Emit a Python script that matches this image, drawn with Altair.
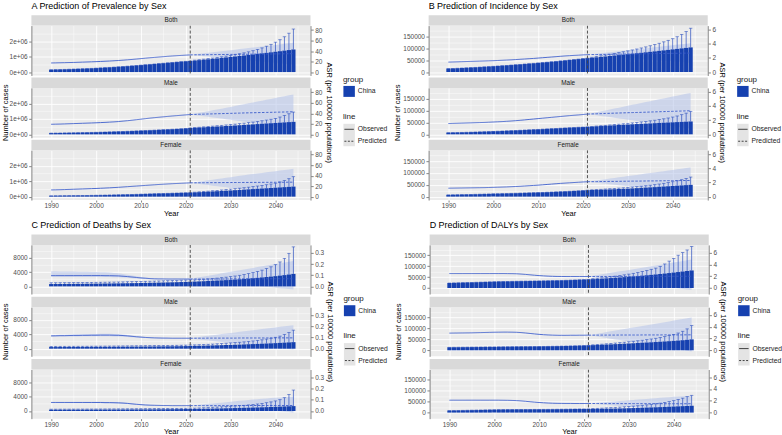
import altair as alt
import pandas as pd

FONT = "Liberation Sans"
YEARS = list(range(1990, 2045))
N_OBS = 32  # 1990-2021 observed, 2022-2044 projected
SPLIT_YEAR = [2021]
SEXES = ["Both", "Male", "Female"]
LEFT_TITLE = "Number of cases"
RIGHT_TITLE = "ASR (per 100000 populations)"

# ---------------- A: prevalence ----------------
prev_both_cases = [150000, 158000, 166000, 175000, 184000, 194000, 205000, 216000, 228000, 240000,
                   255000, 270000, 286000, 303000, 321000, 340000, 360000, 381000, 403000, 426000,
                   450000, 474000, 498000, 522000, 547000, 572000, 597000, 622000, 647000, 672000,
                   695000, 715000,
                   742000, 770000, 798000, 826000, 855000, 884000, 914000, 944000, 975000, 1006000,
                   1038000, 1070000, 1103000, 1136000, 1170000, 1204000, 1239000, 1274000, 1310000,
                   1346000, 1383000, 1420000, 1458000]
prev_both_upper = [770000, 800000, 835000, 870000, 905000, 945000, 985000, 1030000, 1075000, 1125000,
                   1180000, 1240000, 1305000, 1380000, 1460000, 1560000, 1670000, 1790000, 1930000,
                   2090000, 2280000, 2510000, 2780000]
prev_both_asr = [17.3, 17.5, 17.7, 17.9, 18.1, 18.3, 18.6, 18.9, 19.2, 19.5, 19.8, 20.2, 20.6, 21.0,
                 21.5, 22.0, 22.6, 23.3, 24.0, 24.8, 25.6, 26.4, 27.2, 27.9, 28.6, 29.3, 30.0, 30.6,
                 31.2, 31.7, 32.2, 32.7,
                 32.8, 32.9, 33.0, 33.1, 33.2, 33.3, 33.4, 33.5, 33.6, 33.7, 33.8, 33.9, 34.0, 34.1,
                 34.2, 34.3, 34.4, 34.5, 34.6, 34.7, 34.8, 34.9, 35.0]
prev_both_lo = [32.7, 31.9, 31.1, 30.3, 29.5, 28.7, 27.9, 27.1, 26.3, 25.5, 24.7, 23.9, 23.1, 22.3,
                21.5, 20.7, 19.9, 19.1, 18.3, 17.5, 16.7, 15.9, 15.1, 14.3]
prev_both_hi = [32.7, 33.7, 34.7, 35.7, 36.7, 37.7, 38.7, 39.7, 40.7, 41.7, 42.7, 43.7, 44.7, 45.7,
                46.7, 47.7, 48.7, 49.7, 50.7, 51.7, 52.7, 53.7, 54.7, 55.7]

prev_male_cases = [80000, 84000, 88000, 93000, 98000, 103000, 109000, 115000, 122000, 129000,
                   136000, 144000, 152000, 161000, 170000, 180000, 190000, 201000, 212000, 224000,
                   236000, 248000, 261000, 274000, 288000, 302000, 317000, 332000, 347000, 363000,
                   386000, 410000,
                   425000, 441000, 457000, 473000, 489000, 506000, 523000, 540000, 557000, 574000,
                   592000, 610000, 628000, 646000, 664000, 682000, 700000, 718000, 736000, 754000,
                   772000, 790000, 808000]
prev_male_upper = [440000, 462000, 485000, 508000, 532000, 556000, 581000, 607000, 634000, 662000,
                   692000, 724000, 758000, 795000, 835000, 878000, 925000, 975000, 1030000, 1120000,
                   1220000, 1330000, 1440000]
prev_male_asr = [19.2, 19.4, 19.6, 19.9, 20.2, 20.5, 20.8, 21.1, 21.4, 21.7, 22.0, 22.4, 22.8, 23.3,
                 23.8, 24.4, 25.2, 26.0, 26.9, 27.9, 28.9, 29.9, 30.9, 31.8, 32.6, 33.4, 34.2, 35.0,
                 35.7, 36.4, 37.1, 37.8,
                 38.0, 38.3, 38.5, 38.8, 39.0, 39.3, 39.5, 39.8, 40.0, 40.3, 40.5, 40.8, 41.0, 41.2,
                 41.4, 41.6, 41.8, 42.0, 42.2, 42.4, 42.6, 42.8, 43.0]
prev_male_lo = [37.8, 36.5, 35.6, 34.5, 33.5, 32.3, 31.3, 30.0, 29.0, 27.7, 26.6, 25.3, 24.2, 22.9,
                21.6, 20.3, 19.0, 17.7, 16.4, 15.1, 13.8, 12.5, 11.2, 10.0]
prev_male_hi = [37.8, 39.5, 41.0, 42.5, 44.1, 45.7, 47.3, 49.0, 50.6, 52.3, 54.0, 55.7, 57.4, 59.1,
                60.8, 62.5, 64.2, 65.9, 67.6, 69.3, 71.0, 72.7, 74.4, 76.0]

prev_female_cases = [55000, 58000, 61000, 64000, 67000, 71000, 75000, 79000, 83000, 88000,
                     93000, 98000, 104000, 110000, 116000, 123000, 130000, 138000, 146000, 154000,
                     163000, 172000, 181000, 190000, 199000, 208000, 217000, 226000, 235000, 243000,
                     252000, 260000,
                     275000, 290000, 305000, 321000, 337000, 353000, 369000, 385000, 402000, 419000,
                     436000, 453000, 470000, 488000, 506000, 524000, 542000, 560000, 578000, 596000,
                     614000, 632000, 650000]
prev_female_upper = [290000, 312000, 334000, 357000, 381000, 406000, 432000, 459000, 487000, 516000,
                     546000, 578000, 612000, 648000, 686000, 726000, 770000, 817000, 868000, 950000,
                     1040000, 1160000, 1290000]
prev_female_asr = [12.8, 13.0, 13.2, 13.5, 13.8, 14.1, 14.4, 14.7, 15.0, 15.3, 15.6, 16.0, 16.4, 16.8,
                   17.3, 17.8, 18.4, 19.0, 19.6, 20.2, 20.8, 21.4, 22.0, 22.6, 23.2, 23.7, 24.2, 24.7,
                   25.1, 25.5, 25.9, 26.3,
                   26.4, 26.5, 26.5, 26.6, 26.7, 26.7, 26.8, 26.9, 26.9, 27.0, 27.0, 27.1, 27.1, 27.2,
                   27.2, 27.3, 27.3, 27.4, 27.4, 27.5, 27.5, 27.6, 27.6]
prev_female_lo = [26.3, 25.2, 24.2, 23.0, 22.0, 21.0, 19.8, 18.8, 17.8, 16.6, 15.6, 14.4, 13.4, 12.2,
                  11.3, 10.2, 9.3, 8.2, 7.3, 6.2, 5.3, 4.2, 3.3, 2.2]
prev_female_hi = [26.3, 27.6, 28.8, 30.0, 31.2, 32.4, 33.6, 34.8, 36.0, 37.2, 38.4, 39.6, 40.8, 42.0,
                  43.1, 44.2, 45.3, 46.4, 47.5, 48.6, 49.7, 50.8, 51.9, 53.0]

# ---------------- B: incidence ----------------
inc_both_cases = [14400, 15200, 16000, 16900, 17800, 18800, 19800, 20900, 22000, 23100, 24300, 25500,
                  26800, 28100, 29500, 30900, 32300, 33800, 35300, 36800, 38400, 40000, 41700, 43400,
                  45200, 47000, 48900, 50800, 52700, 54700, 56700, 58700,
                  60500, 62300, 64100, 65900, 67700, 69600, 71500, 73400, 75300, 77200, 79200, 81200,
                  83200, 85200, 87200, 89300, 91400, 93500, 95600, 97700, 99800, 101900, 104000]
inc_both_upper = [62500, 65500, 68600, 71800, 75100, 78500, 82000, 85600, 89300, 93200, 97300, 101600,
                  106100, 110900, 116000, 121500, 127400, 133800, 140700, 149000, 159000, 171000, 185000]
inc_both_asr = [1.40, 1.42, 1.44, 1.46, 1.48, 1.50, 1.52, 1.54, 1.56, 1.58, 1.60, 1.63, 1.66, 1.69,
                1.72, 1.76, 1.80, 1.84, 1.88, 1.92, 1.97, 2.02, 2.07, 2.12, 2.17, 2.22, 2.27, 2.31,
                2.35, 2.38, 2.42, 2.45,
                2.46, 2.47, 2.48, 2.49, 2.50, 2.51, 2.52, 2.53, 2.54, 2.55, 2.56, 2.57, 2.58, 2.59,
                2.60, 2.61, 2.62, 2.63, 2.64, 2.65, 2.66, 2.67, 2.68]
inc_both_lo = [2.45, 2.40, 2.35, 2.30, 2.25, 2.20, 2.15, 2.10, 2.05, 2.00, 1.95, 1.90, 1.85, 1.80,
               1.75, 1.70, 1.65, 1.60, 1.55, 1.50, 1.45, 1.40, 1.35, 1.30]
inc_both_hi = [2.45, 2.52, 2.59, 2.66, 2.73, 2.80, 2.87, 2.94, 3.01, 3.08, 3.15, 3.22, 3.29, 3.36,
               3.43, 3.50, 3.57, 3.64, 3.71, 3.78, 3.85, 3.92, 3.99, 4.06]

inc_male_cases = [7000, 7400, 7800, 8300, 8800, 9300, 9900, 10500, 11100, 11800, 12500, 13200, 14000,
                  14800, 15600, 16500, 17400, 18300, 19200, 20100, 21000, 22000, 23000, 24000, 25000,
                  26000, 27000, 28000, 29000, 30000, 30700, 31400,
                  32600, 33800, 35000, 36100, 37200, 38300, 39400, 40400, 41400, 42400, 43400, 44400,
                  45300, 46200, 47100, 48000, 48900, 49800, 50700, 51600, 52500, 53400, 54300]
inc_male_upper = [33500, 35000, 36500, 38000, 39600, 41200, 42900, 44600, 46400, 48300, 50300, 52400,
                  54600, 57000, 59600, 62400, 65500, 69000, 73000, 77500, 83000, 89500, 97000]
inc_male_asr = [1.52, 1.54, 1.56, 1.58, 1.60, 1.62, 1.64, 1.66, 1.68, 1.71, 1.74, 1.77, 1.80, 1.84,
                1.88, 1.93, 1.98, 2.04, 2.10, 2.16, 2.22, 2.28, 2.34, 2.40, 2.46, 2.52, 2.58, 2.64,
                2.69, 2.74, 2.80, 2.86,
                2.88, 2.90, 2.92, 2.95, 2.97, 2.99, 3.01, 3.03, 3.05, 3.07, 3.09, 3.11, 3.13, 3.15,
                3.17, 3.19, 3.21, 3.23, 3.25, 3.27, 3.29, 3.31, 3.33]
inc_male_lo = [2.86, 2.77, 2.68, 2.59, 2.52, 2.43, 2.34, 2.25, 2.16, 2.07, 1.98, 1.89, 1.80, 1.71,
               1.62, 1.53, 1.44, 1.35, 1.26, 1.17, 1.08, 0.99, 0.90, 0.81]
inc_male_hi = [2.86, 2.99, 3.12, 3.25, 3.38, 3.51, 3.64, 3.77, 3.90, 4.03, 4.16, 4.29, 4.42, 4.55,
               4.68, 4.81, 4.94, 5.07, 5.20, 5.33, 5.46, 5.59, 5.72, 5.85]

inc_female_cases = [7400, 7800, 8200, 8600, 9000, 9500, 9900, 10400, 10900, 11300, 11800, 12300, 12800,
                    13300, 13900, 14400, 14900, 15500, 16100, 16700, 17400, 18000, 18700, 19400, 20200,
                    21000, 21900, 22800, 23700, 24700, 26000, 27300,
                    27900, 28500, 29100, 29800, 30500, 31300, 32100, 33000, 33900, 34800, 35800, 36800,
                    37900, 39000, 40100, 41300, 42500, 43700, 44900, 46100, 47300, 48500, 49700]
inc_female_upper = [28800, 29900, 31000, 32200, 33400, 34700, 36000, 37400, 38900, 40500, 42200, 44000,
                    46000, 48200, 50600, 53200, 56100, 59300, 62900, 67000, 71500, 76700, 82600]
inc_female_asr = [1.19, 1.20, 1.21, 1.22, 1.23, 1.24, 1.25, 1.26, 1.27, 1.29, 1.31, 1.33, 1.35, 1.37,
                  1.40, 1.43, 1.46, 1.50, 1.54, 1.58, 1.62, 1.67, 1.72, 1.77, 1.82, 1.87, 1.91, 1.95,
                  1.99, 2.03, 2.07, 2.10,
                  2.11, 2.12, 2.13, 2.14, 2.15, 2.15, 2.16, 2.17, 2.18, 2.19, 2.19, 2.20, 2.21, 2.22,
                  2.22, 2.23, 2.24, 2.25, 2.25, 2.26, 2.27, 2.28, 2.28]
inc_female_lo = [2.10, 2.03, 1.96, 1.89, 1.82, 1.75, 1.67, 1.60, 1.53, 1.46, 1.39, 1.31, 1.24, 1.17,
                 1.10, 1.02, 0.95, 0.88, 0.81, 0.73, 0.66, 0.59, 0.52, 0.44]
inc_female_hi = [2.10, 2.19, 2.28, 2.37, 2.46, 2.55, 2.63, 2.72, 2.81, 2.90, 2.99, 3.07, 3.16, 3.25,
                 3.34, 3.42, 3.51, 3.60, 3.69, 3.77, 3.86, 3.95, 4.04, 4.12]

# ---------------- C: deaths ----------------
death_both_cases = [650, 660, 670, 680, 690, 700, 710, 720, 735, 750, 765, 780, 795, 810, 825, 840,
                    860, 880, 900, 920, 945, 970, 995, 1020, 1050, 1080, 1110, 1140, 1170, 1210, 1250,
                    1300,
                    1340, 1390, 1440, 1495, 1550, 1610, 1675, 1745, 1820, 1900, 1985, 2075, 2170, 2270,
                    2375, 2485, 2600, 2720, 2850, 2990, 3140, 3300, 3470]
death_both_upper = [1000, 1010, 1020, 1030, 1040, 1050, 1060, 1070, 1090, 1110, 1130, 1150, 1170, 1190,
                    1210, 1230, 1260, 1290, 1320, 1350, 1380, 1410, 1440, 1470, 1510, 1550, 1590, 1630,
                    1670, 1720, 1770, 1830,
                    1800, 1880, 1970, 2070, 2180, 2300, 2430, 2570, 2720, 2890, 3080, 3300, 3550, 3830,
                    4150, 4520, 4950, 5450, 6050, 6800, 7800, 9200, 11000]
death_both_asr = [0.097, 0.097, 0.097, 0.097, 0.097, 0.097, 0.097, 0.097, 0.097, 0.097, 0.097, 0.097,
                  0.096, 0.096, 0.095, 0.094, 0.091, 0.088, 0.084, 0.080, 0.076, 0.073, 0.070, 0.068,
                  0.067, 0.067, 0.066, 0.066, 0.066, 0.066, 0.066, 0.066,
                  0.066, 0.066, 0.066, 0.066, 0.066, 0.066, 0.066, 0.066, 0.067, 0.067, 0.067, 0.067,
                  0.067, 0.067, 0.067, 0.067, 0.068, 0.068, 0.068, 0.068, 0.068, 0.068, 0.068]
death_both_lo = [0.085, 0.085, 0.085, 0.085, 0.085, 0.085, 0.085, 0.085, 0.085, 0.085, 0.085, 0.085,
                 0.084, 0.084, 0.083, 0.082, 0.080, 0.077, 0.074, 0.071, 0.068, 0.066, 0.064, 0.063,
                 0.063, 0.063, 0.063, 0.063, 0.063, 0.063, 0.063, 0.064,
                 0.060, 0.056, 0.052, 0.048, 0.044, 0.040, 0.036, 0.032, 0.028, 0.024, 0.020, 0.016,
                 0.012, 0.008, 0.004, 0.000, -0.004, -0.008, -0.012, -0.016, -0.020, -0.024, -0.028]
death_both_hi = [0.135, 0.135, 0.134, 0.134, 0.133, 0.133, 0.132, 0.132, 0.131, 0.130, 0.129, 0.128,
                 0.126, 0.124, 0.121, 0.117, 0.111, 0.104, 0.097, 0.090, 0.084, 0.079, 0.075, 0.072,
                 0.070, 0.069, 0.068, 0.068, 0.068, 0.068, 0.068, 0.068,
                 0.075, 0.082, 0.089, 0.096, 0.103, 0.110, 0.117, 0.124, 0.131, 0.138, 0.145, 0.152,
                 0.159, 0.166, 0.173, 0.180, 0.187, 0.194, 0.201, 0.208, 0.215, 0.222, 0.229]

death_male_cases = [450, 455, 460, 465, 470, 475, 480, 485, 492, 499, 506, 513, 520, 527, 534, 541,
                    550, 559, 568, 577, 587, 597, 608, 619, 631, 643, 656, 669, 683, 703, 725, 750,
                    780, 810, 842, 875, 909, 944, 980, 1017, 1055, 1095, 1137, 1181, 1227, 1275, 1325,
                    1377, 1431, 1487, 1546, 1608, 1674, 1744, 1818]
death_male_upper = [640, 645, 650, 655, 660, 665, 670, 675, 685, 695, 705, 715, 725, 735, 745, 755,
                    768, 781, 794, 807, 820, 834, 848, 862, 878, 894, 911, 928, 946, 970, 1000, 1030,
                    1060, 1110, 1165, 1225, 1290, 1360, 1435, 1515, 1600, 1690, 1790, 1900, 2020, 2150,
                    2300, 2470, 2670, 2900, 3170, 3500, 3950, 4500, 5160]
death_male_asr = [0.115, 0.116, 0.117, 0.117, 0.118, 0.119, 0.119, 0.120, 0.120, 0.121, 0.121, 0.122,
                  0.122, 0.122, 0.121, 0.120, 0.118, 0.115, 0.111, 0.107, 0.104, 0.101, 0.099, 0.097,
                  0.096, 0.095, 0.095, 0.094, 0.094, 0.094, 0.094, 0.094,
                  0.094, 0.094, 0.094, 0.095, 0.095, 0.095, 0.095, 0.095, 0.095, 0.095, 0.096, 0.096,
                  0.096, 0.096, 0.096, 0.096, 0.096, 0.097, 0.097, 0.097, 0.097, 0.097, 0.097]
death_male_lo = [0.108, 0.108, 0.109, 0.109, 0.110, 0.110, 0.110, 0.111, 0.111, 0.111, 0.111, 0.111,
                 0.111, 0.111, 0.110, 0.109, 0.108, 0.106, 0.103, 0.100, 0.098, 0.096, 0.094, 0.093,
                 0.092, 0.092, 0.092, 0.092, 0.092, 0.092, 0.092, 0.092,
                 0.088, 0.083, 0.078, 0.073, 0.068, 0.064, 0.059, 0.054, 0.050, 0.045, 0.041, 0.036,
                 0.032, 0.028, 0.024, 0.020, 0.016, 0.012, 0.008, 0.004, 0.000, -0.004, -0.008]
death_male_hi = [0.123, 0.124, 0.125, 0.126, 0.127, 0.128, 0.129, 0.130, 0.131, 0.132, 0.133, 0.134,
                 0.134, 0.134, 0.133, 0.131, 0.128, 0.124, 0.119, 0.114, 0.109, 0.105, 0.102, 0.100,
                 0.099, 0.098, 0.097, 0.096, 0.096, 0.096, 0.096, 0.096,
                 0.101, 0.106, 0.111, 0.116, 0.121, 0.126, 0.131, 0.136, 0.141, 0.146, 0.151, 0.156,
                 0.161, 0.166, 0.171, 0.176, 0.181, 0.186, 0.191, 0.196, 0.201, 0.206, 0.211]

death_female_cases = [350, 353, 356, 359, 362, 365, 369, 373, 377, 381, 385, 390, 395, 400, 405, 410,
                      416, 422, 428, 435, 442, 449, 457, 465, 474, 483, 492, 502, 513, 526, 542, 560,
                      580, 602, 625, 649, 674, 700, 727, 755, 784, 814, 845, 877, 911, 946, 983, 1022,
                      1063, 1106, 1151, 1199, 1250, 1304, 1360]
death_female_upper = [500, 505, 510, 515, 520, 525, 530, 535, 540, 545, 550, 557, 564, 571, 578, 585,
                      593, 601, 609, 618, 627, 636, 646, 656, 667, 678, 690, 702, 716, 732, 752, 775,
                      800, 850, 905, 960, 1020, 1085, 1155, 1230, 1310, 1395, 1485, 1580, 1690, 1810,
                      1950, 2110, 2300, 2530, 2800, 3150, 3700, 4600, 5830]
death_female_asr = [0.076, 0.076, 0.076, 0.076, 0.076, 0.076, 0.076, 0.076, 0.076, 0.076, 0.076, 0.076,
                    0.075, 0.075, 0.074, 0.073, 0.071, 0.068, 0.064, 0.060, 0.057, 0.054, 0.052, 0.051,
                    0.050, 0.049, 0.049, 0.048, 0.048, 0.048, 0.048, 0.048,
                    0.048, 0.048, 0.048, 0.048, 0.048, 0.048, 0.048, 0.048, 0.049, 0.049, 0.049, 0.049,
                    0.049, 0.049, 0.049, 0.049, 0.049, 0.049, 0.049, 0.049, 0.049, 0.049, 0.049]
death_female_lo = [0.071, 0.071, 0.071, 0.071, 0.071, 0.071, 0.071, 0.071, 0.071, 0.071, 0.071, 0.071,
                   0.070, 0.070, 0.069, 0.068, 0.066, 0.063, 0.059, 0.055, 0.052, 0.050, 0.049, 0.048,
                   0.047, 0.047, 0.046, 0.046, 0.046, 0.046, 0.046, 0.046,
                   0.044, 0.042, 0.040, 0.038, 0.036, 0.034, 0.031, 0.029, 0.027, 0.025, 0.022, 0.020,
                   0.018, 0.015, 0.013, 0.010, 0.008, 0.005, 0.002, 0.000, -0.005, -0.010, -0.015]
death_female_hi = [0.082, 0.082, 0.082, 0.082, 0.082, 0.082, 0.082, 0.082, 0.082, 0.082, 0.082, 0.082,
                   0.081, 0.081, 0.080, 0.079, 0.077, 0.074, 0.070, 0.066, 0.062, 0.058, 0.055, 0.053,
                   0.052, 0.051, 0.050, 0.050, 0.050, 0.050, 0.050, 0.050,
                   0.052, 0.056, 0.060, 0.064, 0.068, 0.072, 0.075, 0.079, 0.083, 0.087, 0.091, 0.095,
                   0.099, 0.103, 0.106, 0.110, 0.113, 0.116, 0.119, 0.121, 0.123, 0.125, 0.127]

# ---------------- D: DALYs ----------------
daly_both_cases = [22700, 23300, 23900, 24500, 25100, 25700, 26300, 26900, 27500, 28100, 28800, 29300,
                   29800, 30200, 30600, 31000, 31300, 31600, 31900, 32200, 32500, 32900, 33300, 33800,
                   34300, 34900, 35500, 36200, 36900, 37700, 38500, 39400,
                   40500, 41700, 42900, 44100, 45400, 46800, 48200, 49700, 51300, 52900, 54600, 56400,
                   58200, 60100, 62000, 64000, 66100, 68300, 70600, 72900, 75300, 77800, 80300]
daly_both_upper = [42500, 44500, 46700, 49000, 51500, 54200, 57100, 60200, 63500, 67000, 71000, 75500,
                   80500, 85500, 91000, 99000, 110000, 123000, 135000, 150000, 162000, 174000, 190000]
daly_both_asr = [2.45, 2.45, 2.45, 2.45, 2.45, 2.45, 2.45, 2.45, 2.45, 2.45, 2.45, 2.45, 2.45, 2.44,
                 2.43, 2.41, 2.36, 2.30, 2.23, 2.16, 2.10, 2.05, 2.01, 1.98, 1.96, 1.95, 1.94, 1.94,
                 1.94, 1.94, 1.94, 1.94,
                 1.94, 1.94, 1.95, 1.95, 1.95, 1.95, 1.96, 1.96, 1.96, 1.96, 1.97, 1.97, 1.97, 1.97,
                 1.98, 1.98, 1.98, 1.98, 1.99, 1.99, 1.99, 1.99, 2.00]
daly_both_lo = [1.94, 1.84, 1.74, 1.64, 1.54, 1.44, 1.34, 1.24, 1.14, 1.04, 0.94, 0.84, 0.74, 0.64,
                0.54, 0.44, 0.34, 0.24, 0.14, 0.04, -0.06, -0.16, -0.26, -0.36]
daly_both_hi = [1.94, 2.07, 2.19, 2.32, 2.44, 2.57, 2.69, 2.82, 2.94, 3.07, 3.19, 3.32, 3.44, 3.57,
                3.69, 3.82, 3.94, 4.07, 4.19, 4.32, 4.44, 4.57, 4.69, 4.82]

daly_male_cases = [13600, 13800, 14000, 14200, 14400, 14600, 14800, 15000, 15200, 15400, 15600, 15800,
                   16000, 16200, 16400, 16600, 16800, 17000, 17200, 17400, 17700, 18000, 18300, 18600,
                   18900, 19300, 19700, 20100, 20600, 21100, 21900, 22700,
                   23600, 24500, 25400, 26300, 27200, 28200, 29200, 30200, 31200, 32200, 33300, 34400,
                   35500, 36600, 37800, 39000, 40300, 41600, 43000, 44500, 46100, 48000, 50000]
daly_male_upper = [25000, 26500, 28000, 29600, 31300, 33100, 35000, 37000, 39100, 41300, 43600, 46100,
                   48800, 51700, 54900, 58500, 62600, 67300, 72700, 79000, 87000, 98000, 113000]
daly_male_asr = [2.91, 2.92, 2.93, 2.94, 2.95, 2.96, 2.98, 3.00, 3.02, 3.04, 3.06, 3.07, 3.08, 3.08,
                 3.07, 3.05, 3.00, 2.93, 2.85, 2.77, 2.70, 2.64, 2.60, 2.57, 2.55, 2.54, 2.54, 2.55,
                 2.55, 2.56, 2.56, 2.57,
                 2.57, 2.57, 2.58, 2.58, 2.58, 2.58, 2.59, 2.59, 2.59, 2.59, 2.59, 2.60, 2.60, 2.60,
                 2.60, 2.60, 2.61, 2.61, 2.61, 2.61, 2.61, 2.62, 2.62]
daly_male_lo = [2.57, 2.45, 2.33, 2.21, 2.09, 1.97, 1.85, 1.73, 1.61, 1.49, 1.37, 1.25, 1.13, 1.01,
                0.89, 0.77, 0.65, 0.53, 0.41, 0.29, 0.17, 0.05, -0.07, -0.19]
daly_male_hi = [2.57, 2.69, 2.82, 2.95, 3.08, 3.21, 3.34, 3.47, 3.60, 3.73, 3.86, 3.99, 4.12, 4.25,
                4.38, 4.51, 4.64, 4.77, 4.90, 5.03, 5.16, 5.29, 5.42, 5.55]

daly_female_cases = [9100, 9500, 9900, 10300, 10700, 11100, 11500, 11900, 12300, 12700, 13200, 13500,
                     13800, 14000, 14200, 14400, 14500, 14600, 14700, 14800, 14800, 14900, 15000, 15200,
                     15400, 15600, 15800, 16100, 16300, 16600, 16600, 16700,
                     16900, 17200, 17500, 17800, 18200, 18600, 19000, 19500, 20100, 20700, 21300, 22000,
                     22700, 23500, 24200, 25000, 25800, 26700, 27600, 28500, 29400, 30300, 31300]
daly_female_upper = [18500, 19500, 20500, 21600, 22700, 23900, 25200, 26600, 28100, 29700, 31400, 33300,
                     35400, 37700, 40300, 43200, 46500, 50300, 54700, 59900, 66000, 73000, 79000]
daly_female_asr = [2.10, 2.10, 2.10, 2.10, 2.10, 2.10, 2.10, 2.10, 2.10, 2.10, 2.10, 2.10, 2.09, 2.08,
                   2.06, 2.03, 1.98, 1.91, 1.84, 1.77, 1.71, 1.66, 1.62, 1.59, 1.57, 1.56, 1.55, 1.55,
                   1.54, 1.54, 1.54, 1.54,
                   1.54, 1.54, 1.53, 1.53, 1.53, 1.53, 1.52, 1.52, 1.52, 1.52, 1.52, 1.51, 1.51, 1.51,
                   1.51, 1.51, 1.50, 1.50, 1.50, 1.50, 1.50, 1.50, 1.50]
daly_female_lo = [1.54, 1.48, 1.42, 1.36, 1.30, 1.24, 1.18, 1.12, 1.06, 1.00, 0.94, 0.88, 0.82, 0.76,
                  0.70, 0.64, 0.58, 0.52, 0.46, 0.41, 0.36, 0.31, 0.27, 0.23]
daly_female_hi = [1.54, 1.60, 1.66, 1.72, 1.78, 1.84, 1.90, 1.96, 2.02, 2.08, 2.14, 2.20, 2.26, 2.32,
                  2.38, 2.44, 2.50, 2.56, 2.62, 2.67, 2.72, 2.77, 2.81, 2.85]

# ---------------- axes ----------------
X_DOMAIN = [1986.7, 2046.7]
X_GRID = list(range(1990, 2046, 5))

PREV_DOMAIN = [-220000, 3000000]
PREV_K = 33900           # cases per unit of ASR on the secondary axis
PREV_MAJOR = [0, 1000000, 2000000]
PREV_LABELS = ["0e+00", "1e+06", "2e+06"]
PREV_MINOR = [500000, 1500000, 2500000]
PREV_RIGHT = [0, 20, 40, 60, 80]

INC_DOMAIN = [-14500, 196000]
INC_K = 29900
INC_MAJOR = [0, 50000, 100000, 150000]
INC_LABELS = ["0", "50000", "100000", "150000"]
INC_MINOR = [25000, 75000, 125000, 175000]
INC_RIGHT = [0, 2, 4, 6]

DEATH_DOMAIN = [-2140, 11550]
DEATH_K = 31000
DEATH_MAJOR = [0, 4000, 8000]
DEATH_LABELS = ["0", "4000", "8000"]
DEATH_MINOR = [2000, 6000, 10000]
DEATH_RIGHT = [0.0, 0.1, 0.2, 0.3]

DALY_DOMAIN = [-27800, 197200]
DALY_K = 27000
DALY_MAJOR = [0, 50000, 100000, 150000]
DALY_LABELS = ["0", "50000", "100000", "150000"]
DALY_MINOR = [25000, 75000, 125000, 175000]
DALY_RIGHT = [0, 2, 4, 6]

# ---------------- style ----------------
BAR = "#1641B0"
ERR = "#2A4EBE"
LINE = "#3A5CCB"
RIBBON = "#B4C2EA"
PANEL_BG = "#EBEBEB"
STRIP_BG = "#D9D9D9"
LABEL = "#4D4D4D"
W = 280
STRIP_H = 10.5
GAP = 2
LEGEND_W = 44
AXIS_TITLE_SIZE = 7.5


def frames(cases, upper, asr, lo, hi):
    caps = upper if len(upper) == len(YEARS) else cases[:N_OBS] + upper
    bars = pd.DataFrame({"year": YEARS, "cases": cases, "upper": caps})
    line = pd.DataFrame({
        "year": YEARS[:N_OBS] + YEARS[N_OBS - 1:],
        "asr": asr[:N_OBS] + asr[N_OBS - 1:],
        "line": ["Observed"] * N_OBS + ["Predicted"] * (len(YEARS) - N_OBS + 1),
    })
    band = pd.DataFrame({"year": YEARS[len(YEARS) - len(lo):], "lo": lo, "hi": hi})
    return bars, line, band


def is_major(values):
    return "indexof([" + ",".join(repr(v) for v in values) + "], datum.value) >= 0"


def label_expr(values, labels):
    expr = "''"
    for v, lab in reversed(list(zip(values, labels))):
        expr = f"datum.value === {v} ? '{lab}' : ({expr})"
    return expr


def panel(sex, series, q, pos):
    cases, upper, asr, lo, hi = series
    bars, line, band = frames(cases, upper, asr, lo, hi)
    bottom = pos == 2
    middle = pos == 1
    h = q["h"]

    xtest = "datum.value % 10 === 0"
    x_common = dict(
        values=X_GRID, format="d", grid=True, gridColor="white",
        gridWidth={"condition": {"test": xtest, "value": 0.9}, "value": 0.45},
        domain=False, labelFlush=False, labelOverlap=False,
    )
    if bottom:
        x_axis = alt.Axis(
            **x_common, title="Year", labelExpr=f"{xtest} ? datum.label : ''",
            tickOpacity={"condition": {"test": xtest, "value": 1}, "value": 0},
            tickSize=2, labelPadding=0.5, titlePadding=0,
        )
    else:
        x_axis = alt.Axis(**x_common, title=None, labels=False, ticks=False)
    x = alt.X("year:Q", scale=alt.Scale(domain=X_DOMAIN, nice=False, zero=False), axis=x_axis)

    ltest = is_major(q["major"])
    left_axis = alt.Axis(
        orient="left", values=sorted(q["major"] + q["minor"]),
        labelExpr=label_expr(q["major"], q["labels"]),
        grid=True, gridColor="white",
        gridWidth={"condition": {"test": ltest, "value": 0.9}, "value": 0.45},
        tickOpacity={"condition": {"test": ltest, "value": 1}, "value": 0},
        labelFlush=False, labelOverlap=False, title=None,
    )
    lscale = alt.Scale(domain=q["domain"], nice=False, zero=False)
    rscale = alt.Scale(domain=[d / q["k"] for d in q["domain"]], nice=False, zero=False)
    right_axis = alt.Axis(
        orient="right", values=q["right"], format=q["right_format"], grid=False,
        labelFlush=False, labelOverlap=False, title=None,
    )

    ribbon = alt.Chart(band).mark_area(color=RIBBON, opacity=0.55).encode(
        x=x, y=alt.Y("lo:Q", scale=rscale, axis=None), y2="hi:Q"
    )
    left = alt.layer(
        alt.Chart(bars).mark_bar(color=BAR, width=4.2).encode(
            x=x, y=alt.Y("cases:Q", scale=lscale, axis=left_axis), y2=alt.datum(0)
        ),
        alt.Chart(bars).mark_rule(color=ERR, strokeWidth=0.7).encode(
            x=x, y=alt.Y("cases:Q", scale=lscale, axis=left_axis), y2="upper:Q"
        ),
        alt.Chart(bars).mark_tick(color=ERR, orient="horizontal", size=3.4, thickness=0.8).encode(
            x=x, y=alt.Y("upper:Q", scale=lscale, axis=left_axis)
        ),
        alt.Chart(pd.DataFrame({"year": SPLIT_YEAR})).mark_rule(
            color="#444444", strokeDash=[3, 2], strokeWidth=0.9
        ).encode(x=x),
    )
    asr_line = alt.Chart(line).mark_line(color=LINE, strokeWidth=0.9).encode(
        x=x,
        y=alt.Y("asr:Q", scale=rscale, axis=right_axis),
        strokeDash=alt.StrokeDash(
            "line:N",
            scale=alt.Scale(domain=["Observed", "Predicted"], range=[[1, 0], [2.5, 1.5]]),
            legend=None,
        ),
    )
    info = alt.Chart(pd.DataFrame({
        "sex": [sex], "title": [q["title"]], "ltitle": [LEFT_TITLE], "rtitle": [RIGHT_TITLE],
    }))
    layers = [
        ribbon, left, asr_line,
        info.mark_rect(color=STRIP_BG).encode(
            x=alt.value(0), x2=alt.value(W), y=alt.value(-STRIP_H), y2=alt.value(0)
        ),
        info.mark_text(fontSize=6.4, color="#1A1A1A", baseline="middle", font=FONT).encode(
            x=alt.value(W / 2), y=alt.value(-STRIP_H / 2), text="sex:N"
        ),
    ]
    if pos == 0:
        layers.append(
            info.mark_text(fontSize=9, color="black", align="left", baseline="alphabetic", font=FONT).encode(
                x=alt.value(0), y=alt.value(-STRIP_H - 6), text="title:N"
            )
        )
    if middle:
        layers += [
            info.mark_text(fontSize=AXIS_TITLE_SIZE, color="black", angle=270, align="center",
                           baseline="middle", font=FONT).encode(
                x=alt.value(q["ltitle_x"]), y=alt.value(h / 2), text="ltitle:N"
            ),
            info.mark_text(fontSize=AXIS_TITLE_SIZE, color="black", angle=90, align="center",
                           baseline="middle", font=FONT).encode(
                x=alt.value(W + q["rtitle_x"]), y=alt.value(h / 2), text="rtitle:N"
            ),
        ]
    return alt.layer(*layers).resolve_scale(y="independent").properties(
        width=W, height=h, view=alt.ViewBackground(fill=PANEL_BG, stroke=None)
    )


def legend(h):
    one = alt.Chart(pd.DataFrame({"k": [0]}))
    txt = dict(align="left", baseline="middle", font=FONT, color="#1A1A1A")
    top = 54.5
    parts = [
        one.mark_text(text="group", fontSize=8, **txt).encode(x=alt.value(0), y=alt.value(top)),
        one.mark_rect(color=BAR).encode(x=alt.value(0.5), x2=alt.value(12), y=alt.value(top + 6), y2=alt.value(top + 17)),
        one.mark_text(text="China", fontSize=6.8, **txt).encode(x=alt.value(15), y=alt.value(top + 11.5)),
        one.mark_text(text="line", fontSize=8, **txt).encode(x=alt.value(0), y=alt.value(top + 37)),
        one.mark_rect(color="#E4E4E4").encode(x=alt.value(0.5), x2=alt.value(12), y=alt.value(top + 44), y2=alt.value(top + 66.5)),
        one.mark_rule(color="#1A1A1A", strokeWidth=0.8).encode(x=alt.value(1.5), x2=alt.value(11), y=alt.value(top + 49.5)),
        one.mark_rule(color="#1A1A1A", strokeWidth=0.8, strokeDash=[2, 1.5]).encode(
            x=alt.value(1.5), x2=alt.value(11), y=alt.value(top + 61.5)),
        one.mark_text(text="Observed", fontSize=6.8, **txt).encode(x=alt.value(15), y=alt.value(top + 49.5)),
        one.mark_text(text="Predicted", fontSize=6.8, **txt).encode(x=alt.value(15), y=alt.value(top + 61.5)),
    ]
    height = 3 * h + 2 * (STRIP_H + GAP)
    return alt.layer(*parts).properties(width=LEGEND_W, height=height)


QUADS = [
    dict(title="A Prediction of Prevalence by Sex", ltitle_x=-25.5, rtitle_x=19, h=50, legend_gap=9.5,
         series=[(prev_both_cases, prev_both_upper, prev_both_asr, prev_both_lo, prev_both_hi),
                 (prev_male_cases, prev_male_upper, prev_male_asr, prev_male_lo, prev_male_hi),
                 (prev_female_cases, prev_female_upper, prev_female_asr, prev_female_lo, prev_female_hi)],
         domain=PREV_DOMAIN, k=PREV_K, major=PREV_MAJOR, labels=PREV_LABELS, minor=PREV_MINOR,
         right=PREV_RIGHT, right_format="d"),
    dict(title="B Prediction of Incidence by Sex", ltitle_x=-30.5, rtitle_x=14.5, h=50, legend_gap=10,
         series=[(inc_both_cases, inc_both_upper, inc_both_asr, inc_both_lo, inc_both_hi),
                 (inc_male_cases, inc_male_upper, inc_male_asr, inc_male_lo, inc_male_hi),
                 (inc_female_cases, inc_female_upper, inc_female_asr, inc_female_lo, inc_female_hi)],
         domain=INC_DOMAIN, k=INC_K, major=INC_MAJOR, labels=INC_LABELS, minor=INC_MINOR,
         right=INC_RIGHT, right_format="d"),
    dict(title="C Prediction of Deaths by Sex", ltitle_x=-25.5, rtitle_x=19.5, h=49.3, legend_gap=9,
         series=[(death_both_cases, death_both_upper, death_both_asr, death_both_lo, death_both_hi),
                 (death_male_cases, death_male_upper, death_male_asr, death_male_lo, death_male_hi),
                 (death_female_cases, death_female_upper, death_female_asr, death_female_lo, death_female_hi)],
         domain=DEATH_DOMAIN, k=DEATH_K, major=DEATH_MAJOR, labels=DEATH_LABELS, minor=DEATH_MINOR,
         right=DEATH_RIGHT, right_format=".1f"),
    dict(title="D Prediction of DALYs by Sex", ltitle_x=-30.5, rtitle_x=14.5, h=49.3, legend_gap=10,
         series=[(daly_both_cases, daly_both_upper, daly_both_asr, daly_both_lo, daly_both_hi),
                 (daly_male_cases, daly_male_upper, daly_male_asr, daly_male_lo, daly_male_hi),
                 (daly_female_cases, daly_female_upper, daly_female_asr, daly_female_lo, daly_female_hi)],
         domain=DALY_DOMAIN, k=DALY_K, major=DALY_MAJOR, labels=DALY_LABELS, minor=DALY_MINOR,
         right=DALY_RIGHT, right_format="d"),
]


def quadrant(q):
    panels = alt.vconcat(
        *[panel(s, ser, q, i) for i, (s, ser) in enumerate(zip(SEXES, q["series"]))],
        spacing=STRIP_H + GAP, bounds="flush",
    )
    return alt.hconcat(panels, legend(q["h"]), spacing=q["legend_gap"])


quads = [quadrant(q) for q in QUADS]
chart = alt.vconcat(
    alt.hconcat(quads[0], quads[1], spacing=6.5),
    alt.hconcat(quads[2], quads[3], spacing=6.5),
    spacing=4,
).properties(
    padding={"left": 1.5, "top": 1, "right": 0, "bottom": 0}
).configure(font=FONT).configure_view(stroke=None).configure_axis(
    labelFont=FONT, titleFont=FONT, labelFontSize=6.5, titleFontSize=7.5,
    labelColor=LABEL, titleColor="black", titleFontWeight="normal",
    tickColor="#333333", tickWidth=0.6, tickSize=2.7, labelPadding=1.5, titlePadding=1.5,
)

chart.save("out.html", embed_options={"renderer": "svg", "actions": False})
